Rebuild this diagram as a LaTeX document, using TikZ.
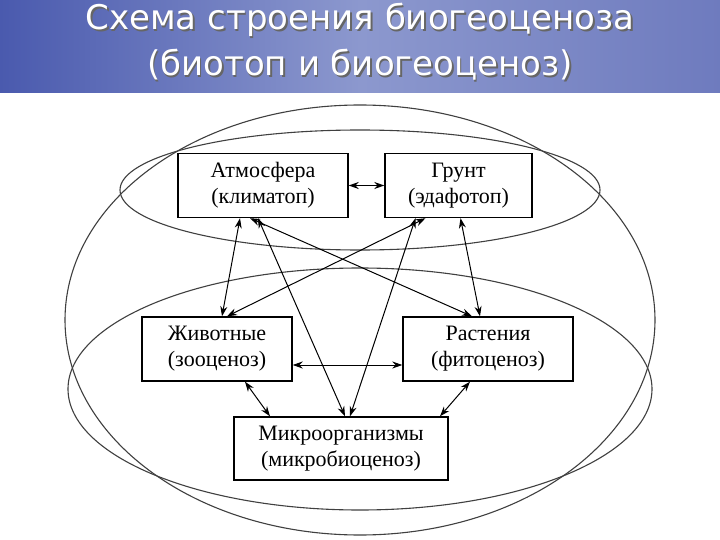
\documentclass[tikz,border=0pt]{standalone}
\usepackage{fontspec}
\setmainfont{Liberation Serif}
\newfontfamily\titlefont{DejaVu Sans}
\usetikzlibrary{arrows.meta}
\definecolor{hdrA}{HTML}{4A5AAE}
\definecolor{hdrB}{HTML}{8C98CE}
\begin{document}
\begin{tikzpicture}[x=1pt,y=-1pt,
  box/.style={draw,line width=1.4pt,minimum width=#1,minimum height=64pt,align=center,inner sep=0pt,font=\fontsize{22}{26}\selectfont},
  conn/.style={{Stealth[length=10pt,width=7pt]}-{Stealth[length=10pt,width=7pt]},line width=1pt},
  ring/.style={line width=1.1pt,draw=black!75}]
\useasboundingbox (0,0) rectangle (720,540);
\fill[white] (0,0) rectangle (720,540);
\shade[left color=hdrA,right color=hdrA!80!white,middle color=hdrB] (0,0) rectangle (720,93);
\node[font=\titlefont\fontsize{34}{38}\selectfont,text=black!60] (t1s) at (361.5,21.5) {Схема строения биогеоценоза};
\node[font=\titlefont\fontsize{34}{38}\selectfont,text=white] (t1) at (360,20) {Схема строения биогеоценоза};
\node[font=\titlefont\fontsize{34}{38}\selectfont,text=black!60] (t2s) at (361.5,66.5) {(биотоп и биогеоценоз)};
\node[font=\titlefont\fontsize{34}{38}\selectfont,text=white] (t2) at (360,65) {(биотоп и биогеоценоз)};
\draw[ring] (360,320) ellipse [x radius=295,y radius=215];
\draw[ring] (360,190) ellipse [x radius=240,y radius=60];
\draw[ring] (360,389) ellipse [x radius=292,y radius=121];
\node[box=170pt] (atm) at (263,185.5) {Атмосфера\\(климатоп)};
\node[box=147pt] (gr) at (458.5,185.5) {Грунт\\(эдафотоп)};
\node[box=150pt] (zh) at (217,349) {Животные\\(зооценоз)};
\node[box=170pt] (ra) at (488,349) {Растения\\(фитоценоз)};
\node[box=214pt,minimum height=63pt] (mi) at (341,448.5) {Микроорганизмы\\(микробиоценоз)};
\draw[conn] (atm.east) -- (gr.west);
\draw[conn] ([yshift=-16pt]zh.east) -- ([yshift=-16pt]ra.west);
\draw[conn] ([xshift=-23pt]atm.south) -- ([xshift=5pt]zh.north);
\draw[conn] ([xshift=-13pt]atm.south) -- ([xshift=-16pt]ra.north);
\draw[conn] ([xshift=-5pt]atm.south) -- ([xshift=4pt]mi.north);
\draw[conn] ([xshift=-33pt]gr.south) -- ([xshift=10pt]zh.north);
\draw[conn] ([xshift=2pt]gr.south) -- ([xshift=-8pt]ra.north);
\draw[conn] ([xshift=-43pt]gr.south) -- ([xshift=9pt]mi.north);
\draw[conn] ([xshift=28pt]zh.south) -- ([xshift=-71pt]mi.north);
\draw[conn] ([xshift=-18pt]ra.south) -- ([xshift=99pt]mi.north);
\end{tikzpicture}
\end{document}
